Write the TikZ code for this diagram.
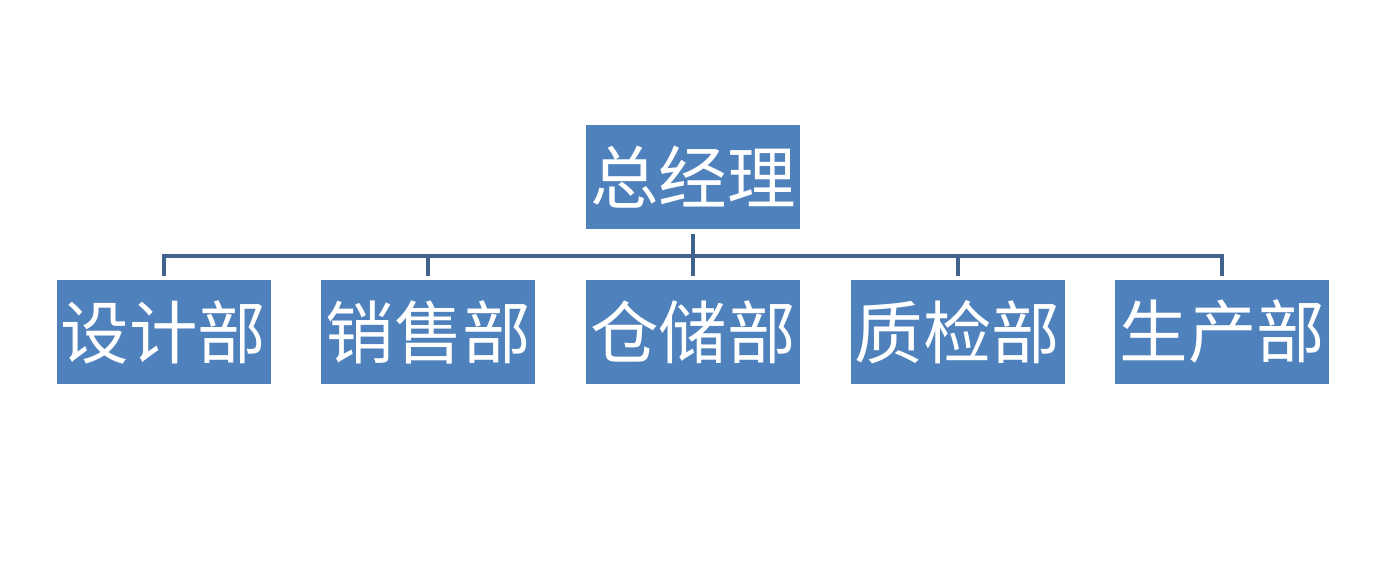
\documentclass[tikz,border=0pt]{standalone}
\usepackage{fontspec}
\newfontfamily\cjk{Noto Sans CJK SC}
\usepackage{tikz}
\usetikzlibrary{positioning}
\definecolor{boxblue}{RGB}{79,129,189}
\definecolor{linkblue}{RGB}{65,100,140}

\begin{document}
\begin{tikzpicture}[font=\cjk\fontsize{39}{42}\selectfont,
    unit/.style={fill=boxblue,text=white,minimum width=4.28cm,minimum height=2.08cm,inner sep=0pt},
    link/.style={draw=linkblue,line width=0.08cm}]
    \useasboundingbox (0,0) rectangle (27.72,11.58);
    \node[unit] (gm) at (13.86,8.03) {总经理};
    \node[unit] (cc) at (13.86,4.94) {仓储部};
    \node[unit,left=1cm of cc] (xs) {销售部};
    \node[unit,left=1cm of xs] (sj) {设计部};
    \node[unit,right=1cm of cc] (zj) {质检部};
    \node[unit,right=1cm of zj] (sc) {生产部};
    \coordinate (bus) at (13.86,6.46);
    \draw[link] ([yshift=0.08cm]sj.north) -- (sj.north |- bus) -| ([yshift=0.08cm]sc.north);
    \draw[link] ([yshift=-0.08cm]gm.south) -- ([yshift=0.08cm]cc.north);
    \draw[link] ([yshift=0.08cm]xs.north) -- (xs.north |- bus);
    \draw[link] ([yshift=0.08cm]zj.north) -- (zj.north |- bus);
  \end{tikzpicture}
\end{document}
